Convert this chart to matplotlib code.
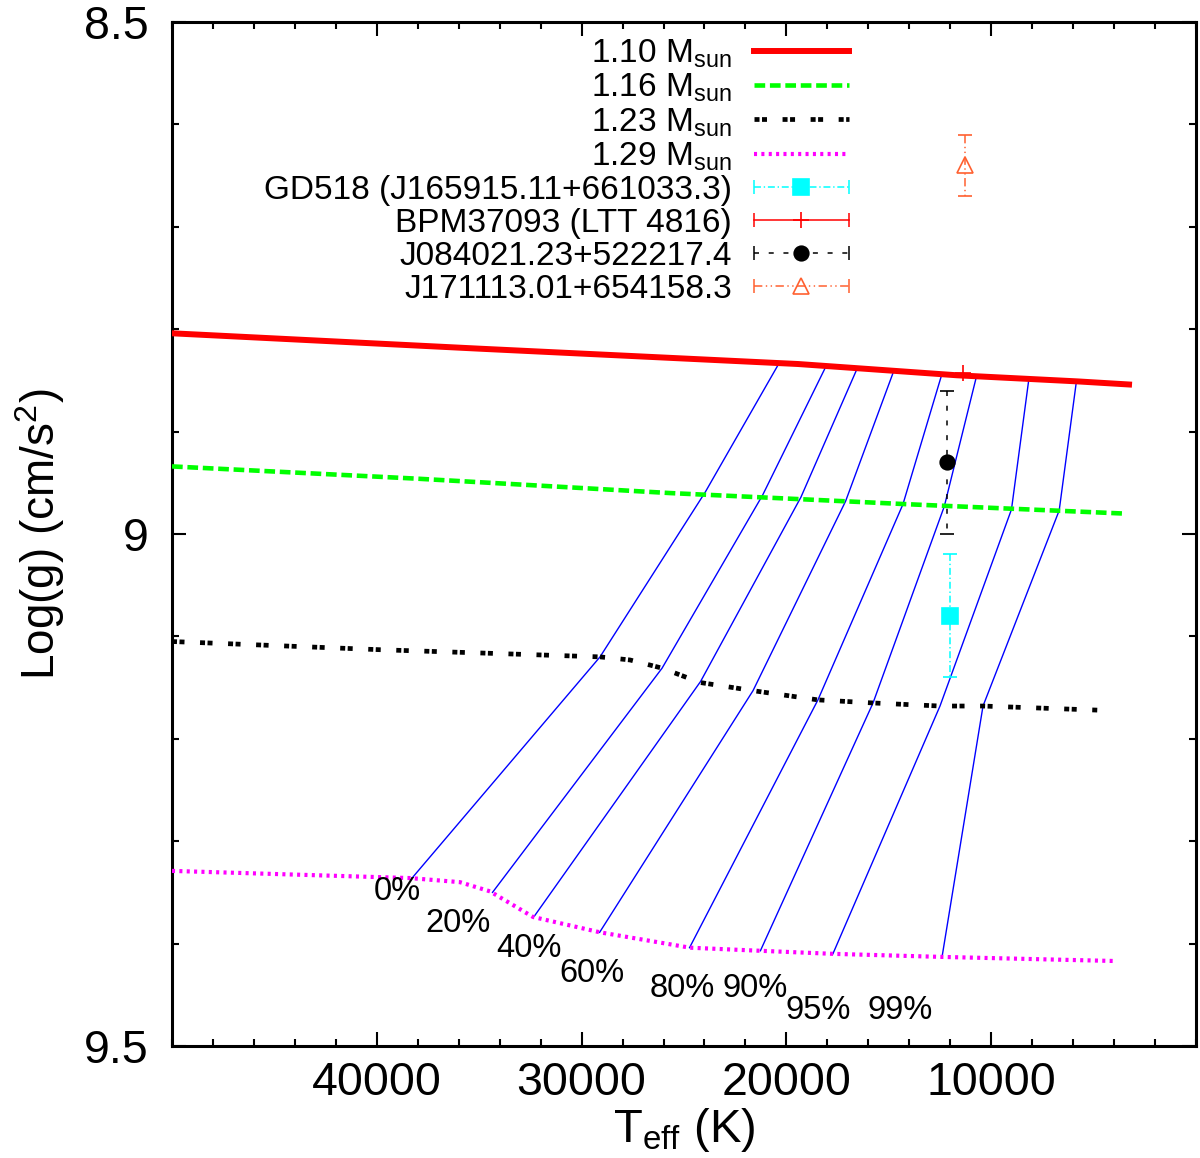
import matplotlib
matplotlib.use("Agg")
import matplotlib.pyplot as plt
from matplotlib.lines import Line2D
from matplotlib.legend_handler import HandlerLine2D
from matplotlib.ticker import MultipleLocator

plt.rcParams['font.family'] = ['Liberation Sans', 'DejaVu Sans']
plt.rcParams['mathtext.fontset'] = 'custom'
plt.rcParams['mathtext.rm'] = 'Liberation Sans'
plt.rcParams['mathtext.it'] = 'Liberation Sans:italic'
plt.rcParams['mathtext.bf'] = 'Liberation Sans:bold'
plt.rcParams['lines.scale_dashes'] = False

# cooling tracks, Teff (K) vs log g
teff_110 = [50000, 35010, 19430, 11670, 5760, 3270]
logg_110 = [8.804, 8.819, 8.834, 8.845, 8.851, 8.854]

teff_116 = [50000, 38000, 25700, 14000, 3560]
logg_116 = [8.934, 8.946, 8.960, 8.971, 8.980]

teff_123 = [50000, 39840, 29100, 27640, 26070, 24220, 21630, 18460, 15770, 12500, 10400, 4790]
logg_123 = [9.105, 9.113, 9.120, 9.123, 9.131, 9.145, 9.153, 9.162, 9.165, 9.168, 9.168, 9.172]

teff_129 = [50000, 38380, 35940, 34470, 32370, 29100, 24710, 21290, 17730, 12400, 3960]
logg_129 = [9.329, 9.336, 9.340, 9.349, 9.374, 9.389, 9.404, 9.407, 9.410, 9.413, 9.417]

# crystallisation lines: points on the 1.29, 1.23, 1.16, 1.10 tracks
cryst_labels = ['0%', '20%', '40%', '60%', '80%', '90%', '95%', '99%']
cryst_teff = [
    [38280, 29100, 23960, 20380],
    [34350, 26070, 21160, 18110],
    [32300, 24190, 19290, 16580],
    [29120, 21630, 17110, 14780],
    [24730, 18460, 14310, 12440],
    [21270, 15770, 12290, 10730],
    [17730, 12500, 9010, 8170],
    [12400, 10400, 6680, 5840],
]
cryst_logg = [
    [9.336, 9.120, 8.959, 8.834],
    [9.350, 9.131, 8.962, 8.838],
    [9.373, 9.144, 8.964, 8.840],
    [9.389, 9.153, 8.968, 8.842],
    [9.404, 9.162, 8.971, 8.846],
    [9.407, 9.165, 8.973, 8.847],
    [9.410, 9.168, 8.976, 8.850],
    [9.413, 9.168, 8.977, 8.851],
]
label_teff = [39020, 36040, 32580, 29490, 25100, 21550, 18470, 14450]
label_logg = [9.349, 9.380, 9.405, 9.429, 9.444, 9.444, 9.465, 9.465]

# observed stars
star_names = ['GD518 (J165915.11+661033.3)', 'BPM37093 (LTT 4816)',
              'J084021.23+522217.4', 'J171113.01+654158.3']
star_teff = [12030, 11400, 12160, 11300]
star_teff_err = [210, 0, 0, 0]
star_logg = [9.08, 8.843, 8.93, 8.64]
star_logg_err = [0.06, 0.0, 0.07, 0.03]

cyan = '#00ffff'
orange = '#ff6030'
track_styles = [
    dict(color='#ff0000', lw=4.3, ls='-'),
    dict(color='#00ff00', lw=3.3, ls=(0, (7.7, 3.4))),
    dict(color='black', lw=3.4, ls=(0, (3.6, 1.8, 3.6, 11.2))),
    dict(color='#ff00ff', lw=3.0, ls=(0, (2.2, 3.1))),
]
star_styles = [
    dict(color=cyan, marker='s', ms=11, mfc=cyan, ls=(0, (5, 2, 1, 2)), cap=5),
    dict(color='#ff0000', marker='+', ms=12, mfc='#ff0000', ls='-', cap=0),
    dict(color='black', marker='o', ms=10.5, mfc='black', ls=(0, (3.6, 7)), cap=5),
    dict(color=orange, marker='^', ms=11, mfc='none', ls=(0, (6, 2.5, 1, 2.5, 1, 2.5)), cap=5),
]

fig = plt.figure(figsize=(12, 11.58), dpi=100)
ax = fig.add_axes([172 / 1200, 112 / 1158, 1024 / 1200, 1024 / 1158])

for teff, logg in zip(cryst_teff, cryst_logg):
    ax.plot(teff, logg, color='#0000ff', lw=1.0, zorder=2)

tracks = [(teff_110, logg_110), (teff_116, logg_116),
          (teff_123, logg_123), (teff_129, logg_129)]
track_handles = []
for (teff, logg), st in zip(tracks, track_styles):
    line, = ax.plot(teff, logg, zorder=3, **st)
    track_handles.append(line)

star_handles = []
for i in range(len(star_names)):
    st = star_styles[i]
    eb = ax.errorbar(star_teff[i], star_logg[i],
                     xerr=star_teff_err[i] or None,
                     yerr=star_logg_err[i] or None,
                     fmt=st['marker'], color=st['color'], ms=st['ms'],
                     mfc=st['mfc'], mec=st['color'], mew=1.2,
                     elinewidth=1.1, capsize=st['cap'], capthick=1.1, zorder=4)
    for lc in eb.lines[2]:
        lc.set_linestyle(st['ls'])
    center = Line2D([], [], color=st['color'], lw=1.1, ls=st['ls'],
                    marker=st['marker'], ms=st['ms'], mfc=st['mfc'],
                    mec=st['color'], mew=1.2)
    caps = Line2D([], [], color=st['color'], ls='none', marker='|',
                  ms=10, mew=1.1)
    star_handles.append((center, caps))

for lab, t, g in zip(cryst_labels, label_teff, label_logg):
    ax.text(t, g, lab, fontsize=23.5, ha='center', va='center')

ax.set_xlim(50000, 0)
ax.set_ylim(9.5, 8.5)
ax.set_xticks([40000, 30000, 20000, 10000])
ax.set_xticklabels(['40000', '30000', '20000', '10000'])
ax.xaxis.set_minor_locator(MultipleLocator(2000))
ax.set_yticks([8.5, 9.0, 9.5])
ax.set_yticklabels(['8.5', '9', '9.5'])
ax.yaxis.set_minor_locator(MultipleLocator(0.1))
ax.tick_params(which='both', direction='in', top=True, right=True, width=1.5)
ax.tick_params(which='major', length=10, labelsize=33.5)
ax.tick_params(which='minor', length=5)
ax.tick_params(axis='x', which='major', pad=10.8)
ax.tick_params(axis='y', which='major', pad=16.5)
for sp in ax.spines.values():
    sp.set_linewidth(2.2)

ax.set_xlabel(r'T$_{\mathrm{eff}}$ (K)', fontsize=34)
ax.xaxis.set_label_coords(0.5, -0.0586)
ax.set_ylabel(r'Log(g) (cm/s$^{2}$)', fontsize=33)
ax.yaxis.set_label_coords(-0.1025, 0.5)

mass_labels = [r'1.10 M$_{\mathrm{sun}}$', r'1.16 M$_{\mathrm{sun}}$',
               r'1.23 M$_{\mathrm{sun}}$', r'1.29 M$_{\mathrm{sun}}$']
hmap = {caps: HandlerLine2D(numpoints=2, marker_pad=0) for _, caps in star_handles}
ax.legend(track_handles + star_handles, mass_labels + star_names,
          loc='upper right', bbox_to_anchor=(0.661, 0.985), frameon=False,
          markerfirst=False, fontsize=24, handlelength=2.85,
          handletextpad=0.66, labelspacing=0.06, borderpad=0,
          borderaxespad=0, handler_map=hmap)

fig.savefig('out.png', dpi=100)
